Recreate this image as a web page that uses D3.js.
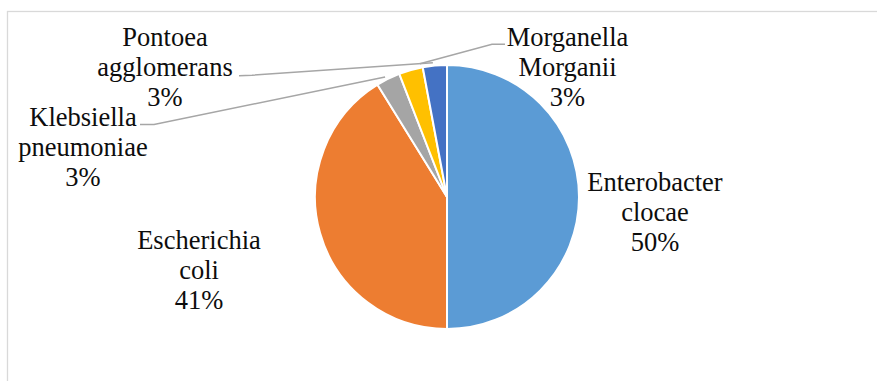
<!DOCTYPE html>
<html>
<head>
<meta charset="utf-8">
<script src="https://cdn.jsdelivr.net/npm/d3@7"></script>
<style>
  html, body { margin: 0; padding: 0; background: #fff; }
  svg { display: block; }
</style>
</head>
<body>
<svg id="chart" width="877" height="381"></svg>
<script>
// Isolates by species (counts)
const categories = [
  "Enterobacter clocae",
  "Escherichia coli",
  "Klebsiella pneumoniae",
  "Pontoea agglomerans",
  "Morganella Morganii"
];
const counts = [17, 14, 1, 1, 1];
const colors = ["#5B9BD5", "#ED7D31", "#A5A5A5", "#FFC000", "#4472C4"];

// Layout
const cx = 447, cy = 197, radius = 132;
const fontSize = 26.5, lineStep = 30;
const labelFont = "Liberation Serif";

// Label blocks: centre x and first baseline; optional leader line
// (label-side points, then the pie-side end given by angle in degrees and radius)
const labelLayout = [
  { x: 655, y: 190.7 },
  { x: 199, y: 249.3 },
  { x: 83,  y: 126,  leader: { pts: [[140, 124.5], [154, 124.5]], angle: 332.7, r: 135 } },
  { x: 165, y: 46,   leader: { pts: [[239, 75.8], [252, 75.2]],  angle: 354.0, r: 135 } },
  { x: 567.5, y: 46, leader: { pts: [[505, 44.3], [492, 44.3]],  angle: 348.5, r: 136 } }
];

const svg = d3.select("#chart");

// Chart area frame
svg.append("rect")
  .attr("x", 7.5).attr("y", 11.5)
  .attr("width", 900).attr("height", 400)
  .attr("fill", "#fff")
  .attr("stroke", "#D9D9D9")
  .attr("stroke-width", 1.3);

const total = d3.sum(counts);
const data = categories.map((c, i) => ({ name: c, value: counts[i], color: colors[i] }));

const pie = d3.pie().value(d => d.value).sort(null).startAngle(0).endAngle(2 * Math.PI);
const arc = d3.arc().innerRadius(0).outerRadius(radius);

const g = svg.append("g").attr("transform", `translate(${cx},${cy})`);

g.selectAll("path.slice")
  .data(pie(data))
  .join("path")
  .attr("class", "slice")
  .attr("d", arc)
  .attr("fill", d => d.data.color)
  .attr("stroke", "#fff")
  .attr("stroke-width", 2)
  .attr("stroke-linejoin", "round");

// Leader lines
const line = d3.line();
labelLayout.forEach(l => {
  if (!l.leader) return;
  const a = l.leader.angle * Math.PI / 180;
  const end = [cx + l.leader.r * Math.sin(a), cy - l.leader.r * Math.cos(a)];
  svg.append("path")
    .attr("d", line([...l.leader.pts, end]))
    .attr("fill", "none")
    .attr("stroke", "#A6A6A6")
    .attr("stroke-width", 1.5);
});

// Data labels: name split across lines, then percentage
const fmtPct = v => Math.round(v / total * 100) + "%";
data.forEach((d, i) => {
  const l = labelLayout[i];
  const lines = d.name.split(" ").concat([fmtPct(d.value)]);
  const t = svg.append("text")
    .attr("text-anchor", "middle")
    .attr("fill", "#0d0d0d")
    .style("font-family", labelFont, "important")
    .style("font-size", fontSize + "px", "important");
  lines.forEach((s, k) => {
    t.append("tspan")
      .attr("x", l.x).attr("y", l.y + k * lineStep)
      .style("font-family", labelFont, "important")
      .text(s);
  });
});
</script>
</body>
</html>
